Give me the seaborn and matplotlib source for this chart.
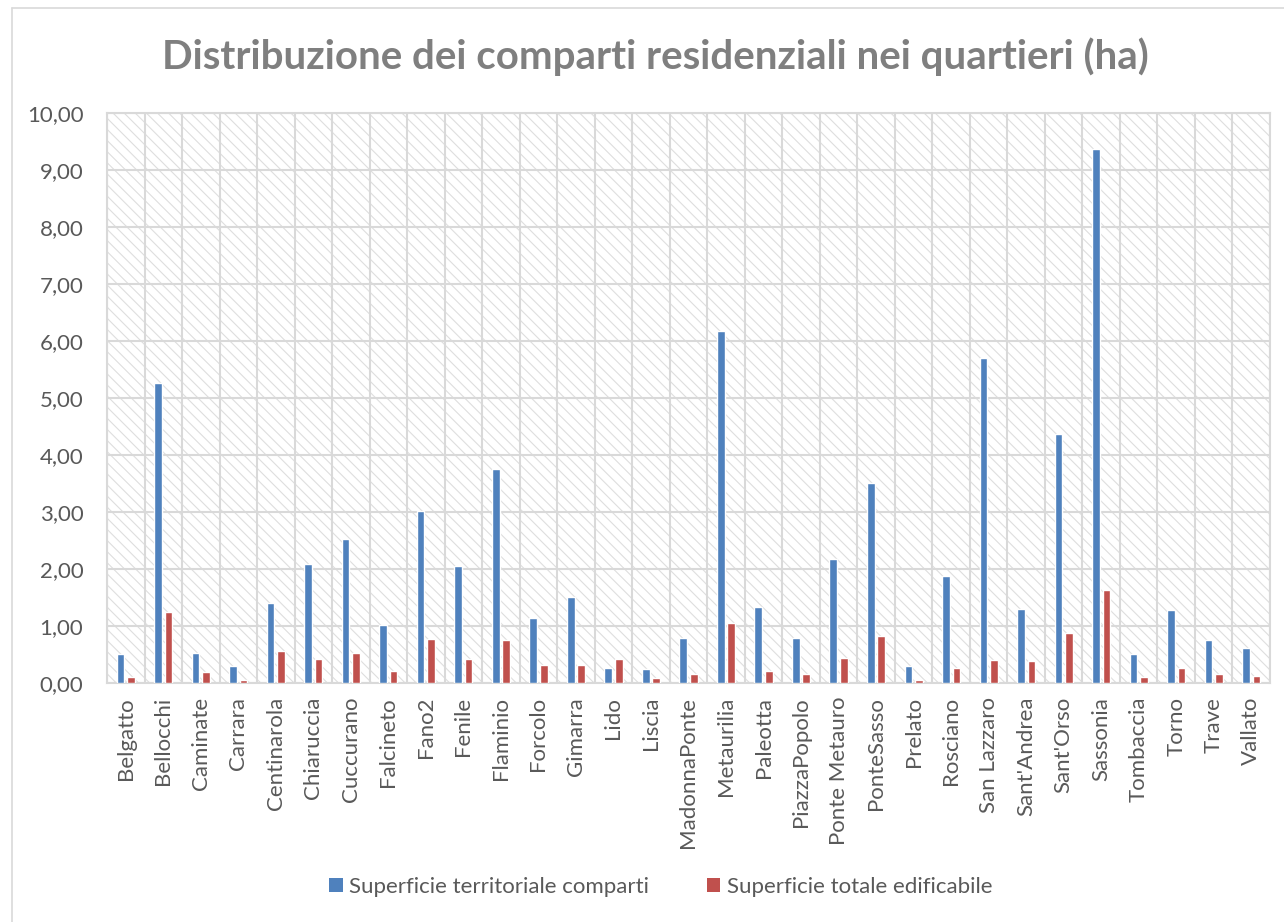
import numpy as np
import pandas as pd
import matplotlib
matplotlib.use("Agg")
import matplotlib.pyplot as plt
from matplotlib.patches import Rectangle, Patch
from matplotlib.lines import Line2D
import seaborn as sns

quartieri = [
    "Belgatto", "Bellocchi", "Caminate", "Carrara", "Centinarola", "Chiaruccia",
    "Cuccurano", "Falcineto", "Fano2", "Fenile", "Flaminio", "Forcolo", "Gimarra",
    "Lido", "Liscia", "MadonnaPonte", "Metaurilia", "Paleotta", "PiazzaPopolo",
    "Ponte Metauro", "PonteSasso", "Prelato", "Rosciano", "San Lazzaro",
    "Sant'Andrea", "Sant'Orso", "Sassonia", "Tombaccia", "Torno", "Trave", "Vallato",
]
sup_territoriale = [
    0.51, 5.27, 0.52, 0.30, 1.40, 2.08, 2.53, 1.02, 3.02, 2.06, 3.75, 1.14, 1.51,
    0.26, 0.25, 0.79, 6.18, 1.34, 0.79, 2.18, 3.50, 0.30, 1.87, 5.71, 1.30, 4.37,
    9.36, 0.51, 1.28, 0.76, 0.61,
]
sup_edificabile = [
    0.11, 1.24, 0.19, 0.06, 0.57, 0.42, 0.53, 0.21, 0.77, 0.42, 0.75, 0.32, 0.31,
    0.42, 0.08, 0.16, 1.05, 0.21, 0.16, 0.44, 0.82, 0.06, 0.27, 0.40, 0.39, 0.87,
    1.63, 0.10, 0.26, 0.15, 0.12,
]
serie = ["Superficie territoriale comparti", "Superficie totale edificabile"]
colori = ["#4f81bd", "#c0504d"]
titolo = "Distribuzione dei comparti residenziali nei quartieri (ha)"

df = pd.DataFrame({
    "Quartiere": quartieri * 2,
    "Serie": [serie[0]] * len(quartieri) + [serie[1]] * len(quartieri),
    "Valore": sup_territoriale + sup_edificabile,
})

sns.set_theme(style="white")
plt.rcParams["font.family"] = ["Lato", "DejaVu Sans"]
plt.rcParams["hatch.linewidth"] = 0.8

W, H = 1284, 922
fig = plt.figure(figsize=(W / 100, H / 100), dpi=100)
fig.patch.set_facecolor("white")
ax = fig.add_axes([107 / W, 1 - 683 / H, (1270 - 107) / W, (683 - 113) / H])

grid_col = "#d9d9d9"
text_col = "#595959"

# hatched plot-area background
ax.add_patch(Rectangle((0, 0), 1, 1, transform=ax.transAxes, facecolor="white",
                       edgecolor="#dedede", hatch="\\\\\\", linewidth=0, zorder=0.2))

sns.barplot(data=df, x="Quartiere", y="Valore", hue="Serie", order=quartieri,
            hue_order=serie, palette=colori, width=0.56, gap=0.27,
            saturation=1, legend=False, ax=ax, zorder=3)

ax.set_xlim(-0.5, len(quartieri) - 0.5)
ax.set_ylim(0, 10)
ax.set_yticks(np.arange(0, 11, 1))
ax.set_yticklabels([f"{v:.2f}".replace(".", ",") for v in np.arange(0, 11, 1)])
ax.set_xticks(np.arange(len(quartieri)))
ax.set_xticklabels(quartieri, rotation=90)
ax.set_xticks(np.arange(len(quartieri) + 1) - 0.5, minor=True)
ax.set_axisbelow(True)
ax.grid(True, which="major", axis="y", color=grid_col, linewidth=1.5, zorder=0.5)
ax.grid(True, which="minor", axis="x", color=grid_col, linewidth=1.5, zorder=0.5)
ax.grid(False, which="major", axis="x")
ax.set_xlabel("")
ax.set_ylabel("")
ax.tick_params(axis="both", which="both", length=0, labelsize=16, colors=text_col)
ax.tick_params(axis="y", pad=17)
ax.tick_params(axis="x", pad=10)
for s in ax.spines.values():
    s.set_color(grid_col)
    s.set_linewidth(1.5)

fig.text(655 / W, 1 - 57 / H, titolo, ha="center", va="center",
         fontsize=29, fontweight="bold", color="#7f7f7f")

# chart-area border
fig.add_artist(Line2D([12 / W, 12 / W], [0, 1 - 8 / H], transform=fig.transFigure,
                      color=grid_col, linewidth=1.2))
fig.add_artist(Line2D([12 / W, 1], [1 - 8 / H, 1 - 8 / H], transform=fig.transFigure,
                      color=grid_col, linewidth=1.2))

handles = [Patch(facecolor=c, edgecolor="none") for c in colori]
fig.legend(handles, serie, loc="center", bbox_to_anchor=(661 / W, 1 - 887 / H),
           ncol=2, frameon=False, fontsize=16, handlelength=0.6, handleheight=0.6,
           handletextpad=0.3, columnspacing=2.6, labelcolor=text_col)

fig.savefig("out.png", dpi=100, facecolor="white")
